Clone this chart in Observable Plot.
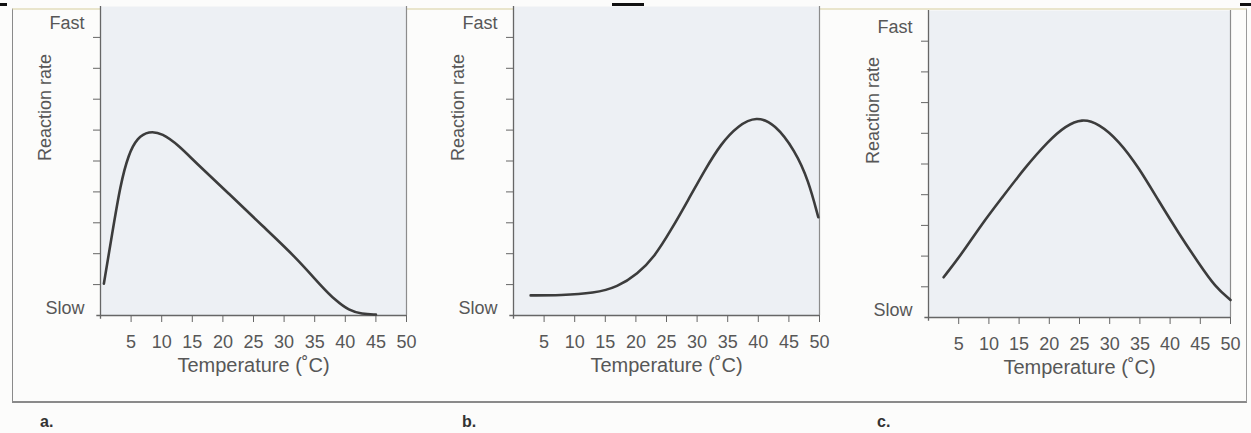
<!DOCTYPE html>
<html><head><meta charset="utf-8">
<script src="https://cdn.jsdelivr.net/npm/d3@7"></script>
<script src="https://cdn.jsdelivr.net/npm/@observablehq/plot@0.6"></script>
<style>
html,body{margin:0;padding:0;background:#fcfcfb;width:1251px;height:433px;overflow:hidden;font-family:"Liberation Sans",Arial,sans-serif;}
#wrap{position:relative;width:1251px;height:433px;}
.panel{position:absolute;top:0;}
#box{position:absolute;left:12px;top:8px;width:1235px;height:395px;border-left:1.5px solid #8a8a8a;border-right:1.5px solid #9a9a9a;border-bottom:2px solid #8a8a8a;border-top:2px solid #e9e5cc;box-sizing:border-box}
.lab{position:absolute;top:413px;font-size:16px;font-weight:bold;color:#333;}
.dash{position:absolute;background:#111;height:3px;top:3px}
</style></head><body>
<div id="wrap">
<div id="box"></div>
<div class="dash" style="left:0;width:7px"></div>
<div class="dash" style="left:612px;width:32px"></div>
<div class="dash" style="left:1240px;width:11px"></div>
<div class="panel" id="pa" style="left:0px"></div>
<div class="panel" id="pb" style="left:415px"></div>
<div class="panel" id="pc" style="left:828px"></div>
<div class="lab" style="left:40px">a.</div>
<div class="lab" style="left:462px">b.</div>
<div class="lab" style="left:877px">c.</div>
</div>
<script>
// Panel a: rate vs temperature
const tempA = [0.55, 1.9, 3.27, 4.6, 6.0, 7.9, 10.1, 12.8, 15.5, 21.0, 26.4, 31.9, 36.2, 38.4, 40.6, 42.7, 45];
const rateA = [1.03, 2.64, 4.26, 5.23, 5.75, 5.97, 5.9, 5.5, 4.96, 3.94, 2.91, 1.89, 0.92, 0.49, 0.16, 0.05, 0.03];
// Panel b
const tempB = [2.8, 7.7, 13.2, 17.0, 20.3, 23.0, 25.7, 28.5, 31.2, 33.9, 36.7, 39.7, 42.7, 46.0, 48.2, 49.8];
const rateB = [0.65, 0.65, 0.72, 0.92, 1.35, 1.89, 2.75, 3.72, 4.69, 5.56, 6.15, 6.45, 6.2, 5.34, 4.37, 3.18];
// Panel c
const tempC = [2.5, 5.5, 8.85, 12.2, 16.0, 19.9, 22.7, 25.4, 28.2, 31.5, 34.8, 38.1, 41.5, 44.8, 47.5, 50];
const rateC = [1.31, 2.07, 3.05, 3.91, 4.89, 5.76, 6.24, 6.48, 6.32, 5.76, 4.89, 3.8, 2.72, 1.75, 0.99, 0.57];

const xTicks = [5, 10, 15, 20, 25, 30, 35, 40, 45, 50];
const yTicks = [1, 2, 3, 4, 5, 6, 7, 8, 9];
const yLabelText = ["Slow", "Fast"];
const yLabelPos = [0.25, 9.45];
const xTitle = "Temperature (\u02DAC)";
const yTitle = "Reaction rate";

const textColor = "#575757";
const lineColor = "#3c3c3c";

function panel(el, temps, rates, opt) {
  const data = temps.map((t, i) => ({t, r: rates[i]}));
  const chart = Plot.plot({
    width: opt.width, height: 385,
    marginLeft: opt.ml, marginRight: opt.mr, marginTop: opt.mt, marginBottom: 385 - opt.axisY,
    x: {domain: [0, 50]},
    y: {domain: [0, 10]},
    style: {fontFamily: '"Liberation Sans", Arial, sans-serif', fontSize: "18px", color: textColor, background: "transparent", overflow: "visible"},
    marks: [
      Plot.frame({fill: "#edf0f4", stroke: null}),
      Plot.ruleX([50], {y1: 0, y2: 10, stroke: "#8c8c8c", strokeWidth: 1.2}),
      Plot.ruleX([0], {y1: -0.12, y2: 10, stroke: "#666", strokeWidth: 1.3}),
      Plot.ruleY([0], {x1: -0.6, x2: 50, stroke: "#666", strokeWidth: 1.3}),
      Plot.axisX({ticks: xTicks, tickSize: 7, tickPadding: 13, label: null, stroke: "#666", fill: textColor, fontSize: "18px"}),
      Plot.axisY({ticks: yTicks, tickSize: 7, tickFormat: () => "", label: null, stroke: "#666"}),
      Plot.text(yLabelText, {y: (d, i) => yLabelPos[i], text: d => d, frameAnchor: "left", textAnchor: "end", dx: -16, fontSize: 18, fill: textColor}),
      Plot.text([yTitle], {frameAnchor: "left", rotate: -90, dx: -55, fontSize: 18, fill: textColor}),
      Plot.text([xTitle], {frameAnchor: "bottom", dy: 56, fontSize: 20, fill: textColor}),
      Plot.line(data, {x: "t", y: "r", curve: "basis", stroke: lineColor, strokeWidth: 2.6})
    ]
  });
  document.getElementById(el).appendChild(chart);
}

panel("pa", tempA, rateA, {width: 415, ml: 100, mr: 9, mt: 6, axisY: 315});
panel("pb", tempB, rateB, {width: 413, ml: 98, mr: 9, mt: 6, axisY: 315});
panel("pc", tempC, rateC, {width: 412, ml: 100, mr: 10, mt: 10, axisY: 317});
</script>
</body></html>
